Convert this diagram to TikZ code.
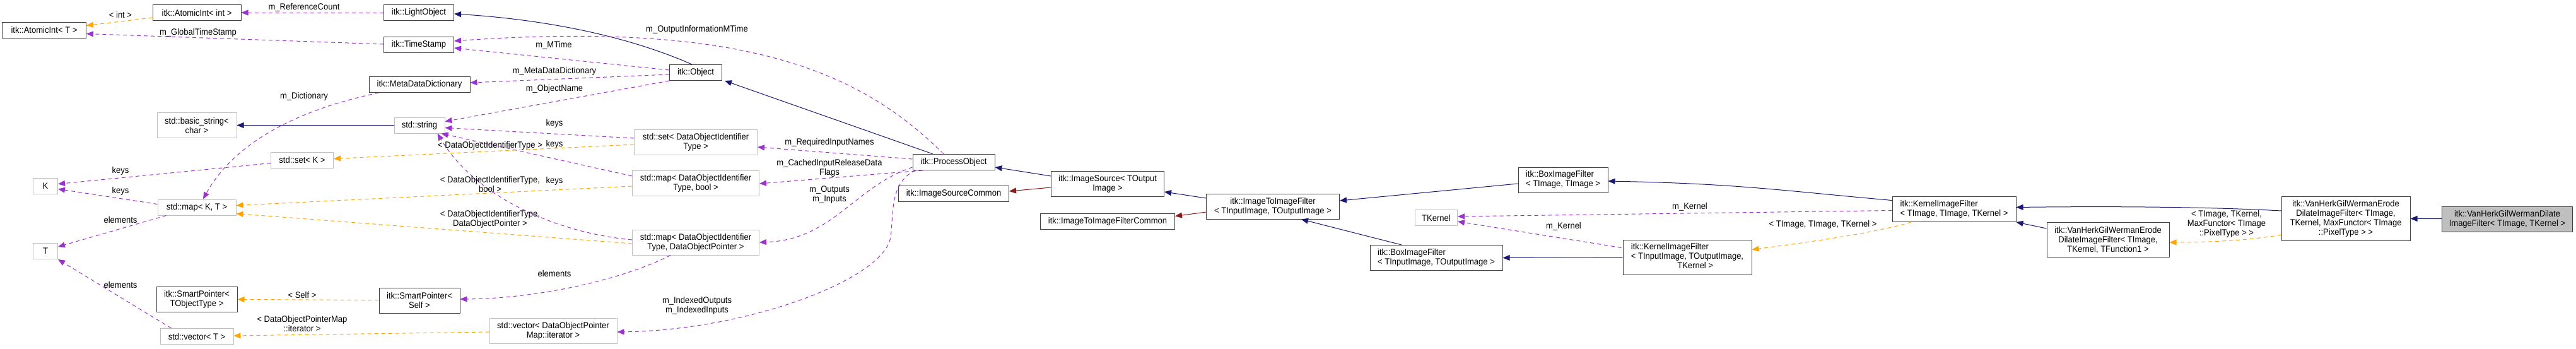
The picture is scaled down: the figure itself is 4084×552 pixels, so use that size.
\documentclass[tikz,border=0pt]{standalone}
\usepackage{fontspec}
\setmainfont{Liberation Sans}[FakeStretch=0.93]
\usetikzlibrary{arrows.meta,calc}
\definecolor{inh}{HTML}{191970}
\definecolor{use}{HTML}{9A32CD}
\definecolor{tpl}{HTML}{FFA500}
\definecolor{prv}{HTML}{8B1A1A}
\definecolor{gb}{HTML}{BFBFBF}
\definecolor{db}{HTML}{404040}
\begin{document}
\begin{tikzpicture}[x=1pt,y=-1pt,
  every node/.style={font=\fontsize{14}{15}\selectfont, inner sep=0pt, align=center},
  doc/.style={draw=db, line width=1pt, fill=white},
  und/.style={draw=gb, line width=1pt, fill=white},
  lbl/.style={},
  ar/.style={-{Triangle[length=11pt,width=9pt]}, line width=1pt},
  inhe/.style={ar, draw=inh},
  pri/.style={ar, draw=prv},
  usee/.style={ar, draw=use, dash pattern=on 6pt off 5pt},
  tple/.style={ar, draw=tpl, dash pattern=on 6pt off 5pt}]
\useasboundingbox (0,0) rectangle (4084,552);
\newcommand{\bx}[7]{\node[#1, minimum width=#5, minimum height=#6] (#2) at (#3,#4) {#7};}
% nodes
\bx{doc}{aiT}{70}{47.5}{133}{25}{itk::AtomicInt< T >}
\bx{doc}{aiint}{312}{20}{140}{25}{itk::AtomicInt< int >}
\bx{doc}{lo}{664}{20}{111}{25}{itk::LightObject}
\bx{doc}{ts}{664}{71}{111}{25}{itk::TimeStamp}
\bx{doc}{mdd}{665}{134}{160}{25}{itk::MetaDataDictionary}
\bx{und}{bstr}{312}{198.5}{126}{40}{std::basic\_string<\\char >}
\bx{und}{str}{665}{198.5}{80}{25}{std::string}
\bx{und}{setK}{479}{253.5}{99}{25}{std::set< K >}
\bx{und}{K}{72}{294.5}{39}{25}{K}
\bx{und}{mapKT}{312}{328.5}{124}{25}{std::map< K, T >}
\bx{und}{T}{72}{398}{39}{25}{T}
\bx{doc}{spT}{312}{474}{128}{40}{itk::SmartPointer<\\TObjectType >}
\bx{doc}{spS}{665}{476}{128}{40}{itk::SmartPointer<\\Self >}
\bx{und}{vecT}{312}{533}{116}{25}{std::vector< T >}
\bx{doc}{obj}{1103}{115}{83}{25}{itk::Object}
\bx{und}{setD}{1103}{225}{195}{40}{std::set< DataObjectIdentifier\\Type >}
\bx{und}{mapB}{1103}{290}{201}{40}{std::map< DataObjectIdentifier\\Type, bool >}
\bx{und}{mapP}{1103}{384}{201}{40}{std::map< DataObjectIdentifier\\Type, DataObjectPointer >}
\bx{und}{vecI}{877}{524}{202}{40}{std::vector< DataObjectPointer\\Map::iterator >}
\bx{doc}{po}{1512}{257}{130}{25}{itk::ProcessObject}
\bx{doc}{isc}{1512}{307}{175}{25}{itk::ImageSourceCommon}
\bx{doc}{is}{1756}{291}{179}{40}{itk::ImageSource< TOutput\\Image >}
\bx{doc}{itic}{1756}{350.5}{213}{25}{itk::ImageToImageFilterCommon}
\bx{doc}{iti}{2018}{327}{211}{40}{itk::ImageToImageFilter\\< TInputImage, TOutputImage >}
\bx{doc}{boxT}{2478}{285}{142}{40}{\begin{tabular}{@{}l@{}}itk::BoxImageFilter\\< TImage, TImage >\end{tabular}}
\bx{und}{tk}{2277}{345}{67}{25}{TKernel}
\bx{doc}{boxI}{2277}{408.5}{210}{40}{\begin{tabular}{@{}l@{}}itk::BoxImageFilter\\< TInputImage, TOutputImage >\end{tabular}}
\bx{doc}{kifI}{2675}{407.5}{204}{55}{\begin{tabular}{@{}l@{}}itk::KernelImageFilter\\< TInputImage, TOutputImage,\\\hfill TKernel >\hspace*{48pt}\end{tabular}}
\bx{doc}{kifT}{3098}{331.5}{196}{40}{\begin{tabular}{@{}l@{}}itk::KernelImageFilter\\< TImage, TImage, TKernel >\end{tabular}}
\bx{doc}{vhF}{3342}{380}{194}{55}{itk::VanHerkGilWermanErode\\DilateImageFilter< TImage,\\TKernel, TFunction1 >}
\bx{doc}{vhM}{3719}{346}{204}{70}{itk::VanHerkGilWermanErode\\DilateImageFilter< TImage,\\TKernel, MaxFunctor< TImage\\::PixelType > >}
\node[draw=db, line width=1pt, fill=gb, minimum width=207, minimum height=40] (vhD) at (3975,347) {itk::VanHerkGilWermanDilate\\ImageFilter< TImage, TKernel >};
% inheritance
\draw[inhe] ($(obj.north)+(-6,0)$) .. controls (985,53) and (851,30) .. ($(lo.east)+(0,2)$);
\draw[inhe] ($(po.north)+(-33,0)$) -- ($(obj.south east)+(4,0)$);
\draw[inhe] (str) -- (bstr);
\draw[inhe] ($(is.west)+(0,-12)$) -- ($(po.east)+(0,8)$);
\draw[pri] ($(is.west)+(0,6)$) -- ($(isc.east)+(0,-4)$);
\draw[inhe] ($(iti.west)+(0,-13)$) -- ($(is.east)+(0,13)$);
\draw[pri] ($(iti.west)+(0,9)$) -- ($(itic.east)+(0,-8)$);
\draw[inhe] ($(boxT.west)+(0,6)$) -- ($(iti.east)+(0,-9)$);
\draw[inhe] ($(boxI.north)+(-55,0)$) -- ($(iti.south)+(45,0)$);
\draw[inhe] ($(kifT.west)+(0,-14)$) .. controls (2815,301) and (2753,291) .. ($(boxT.east)+(0,2)$);
\draw[inhe] (kifI.west) -- (boxI.east);
\draw[inhe] ($(vhM.west)+(0,-12)$) .. controls (3490,327) and (3318,327) .. ($(kifT.east)+(0,-3)$);
\draw[inhe] ($(vhF.north west)+(0,10)$) -- (kifT.south east);
\draw[inhe] (vhD) -- (vhM);
% usage
\draw[usee] (lo) -- (aiint);
\node[lbl] (l1) at (482,12) {m\_ReferenceCount};
\draw[usee] ($(ts.west)+(0,-1)$) -- ($(aiT.east)+(0,6)$);
\node[lbl] (l2) at (314,52) {m\_GlobalTimeStamp};
\draw[usee] ($(obj.west)+(0,-4)$) -- ($(ts.east)+(0,5)$);
\node[lbl] (l3) at (878,72) {m\_MTime};
\draw[usee] ($(po.north)+(-16,0)$) .. controls (1367,116) and (1186,32) .. ($(ts.east)+(0,-6)$);
\node[lbl] (l4) at (1105,46.5) {m\_OutputInformationMTime};
\draw[usee] ($(obj.west)+(0,3)$) -- ($(mdd.east)+(0,-3)$);
\node[lbl] (l5) at (879,113) {m\_MetaDataDictionary};
\draw[usee] (obj.south west) -- ($(str.east)+(0,-6)$);
\node[lbl] (l6) at (879,140.5) {m\_ObjectName};
\draw[usee] ($(mdd.south west)+(16,0)$) .. controls (442,180) and (362,243) .. ($(mapKT.north)+(10,0)$);
\node[lbl] (l7) at (482,153) {m\_Dictionary};
\draw[usee] ($(setK.west)+(0,5)$) -- ($(K.east)+(0,-3)$);
\node[lbl] (l8) at (191,271) {keys};
\draw[usee] ($(mapKT.west)+(0,-5)$) -- ($(K.east)+(0,5)$);
\node[lbl] (l9) at (191,303) {keys};
\draw[usee] ($(mapKT.south west)+(14,0)$) -- ($(T.east)+(0,-7)$);
\node[lbl] (l10) at (191,348.5) {elements};
\draw[usee] ($(vecT.north west)+(18,0)$) -- (T.south east);
\node[lbl] (l11) at (191,451) {elements};
\draw[usee] ($(setD.west)+(0,-6)$) -- ($(str.east)+(0,4)$);
\node[lbl] (l12) at (879,196) {keys};
\draw[usee] ($(mapB.west)+(0,-11)$) -- ($(str.south east)+(-6,0)$);
\node[lbl] (l13) at (879,229) {keys};
\draw[usee] ($(mapP.west)+(0,-4)$) .. controls (891,370) and (757,317) .. ($(str.south east)+(-12,0)$);
\node[lbl] (l14) at (879,287) {keys};
\draw[usee] ($(mapP.south)+(-40,0)$) .. controls (985,444) and (851,473) .. ($(spS.east)+(0,-2)$);
\node[lbl] (l15) at (879,433) {elements};
\draw[usee] ($(po.west)+(0,-5)$) -- ($(setD.east)+(0,8)$);
\node[lbl] (l16) at (1315,226) {m\_RequiredInputNames};
\draw[usee] ($(po.south west)+(16,0)$) -- ($(mapB.east)+(0,1)$);
\node[lbl] (l17) at (1315,266) {m\_CachedInputReleaseData\\Flags};
\draw[usee] ($(po.west)+(0,8)$) .. controls (1354,296) and (1320,380) .. (mapP.east);
\node[lbl] (l18) at (1315,309) {m\_Outputs\\m\_Inputs};
\draw[usee] ($(po.south west)+(5,0)$) .. controls (1407,290) and (1418,348) .. (1411,380) .. controls (1394,444) and (1186,523) .. ($(vecI.east)+(0,2)$);
\node[lbl] (l19) at (1105,484) {m\_IndexedOutputs\\m\_IndexedInputs};
\draw[usee] ($(kifT.west)+(0,2)$) -- ($(tk.east)+(0,-2)$);
\node[lbl] (l20) at (2679,328) {m\_Kernel};
\draw[usee] ($(kifI.west)+(-2,-15)$) -- ($(tk.east)+(0,6)$);
\node[lbl] (l21) at (2479,359) {m\_Kernel};
% templates
\draw[tple] ($(aiint.west)+(0,8)$) -- ($(aiT.east)+(0,-7)$);
\node[lbl] (l22) at (191,23) {< int >};
\draw[tple] ($(setD.west)+(0,4)$) -- ($(setK.east)+(0,-2)$);
\node[lbl] (l23) at (777,231) {< DataObjectIdentifierType >};
\draw[tple] ($(mapB.west)+(0,5)$) -- ($(mapKT.east)+(0,-3)$);
\node[lbl] (l24) at (777,291.5) {< DataObjectIdentifierType,\\bool >};
\draw[tple] ($(mapP.west)+(0,2)$) -- ($(mapKT.east)+(0,10)$);
\node[lbl] (l25) at (777,347) {< DataObjectIdentifierType,\\DataObjectPointer >};
\draw[tple] (spS) -- (spT);
\node[lbl] (l26) at (479,467) {< Self >};
\draw[tple] ($(vecI.west)+(0,2)$) -- ($(vecT.east)+(0,-1)$);
\node[lbl] (l27) at (479,513) {< DataObjectPointerMap\\::iterator >};
\draw[tple] ($(kifT.south)+(-68,0)$) .. controls (2969,370) and (2858,385) .. ($(kifI.east)+(0,-12)$);
\node[lbl] (l28) at (2890,356) {< TImage, TImage, TKernel >};
\draw[tple] ($(vhM.west)+(0,26)$) .. controls (3561,382) and (3490,384) .. ($(vhF.east)+(0,4)$);
\node[lbl] (l29) at (3530,355) {< TImage, TKernel,\\MaxFunctor< TImage\\::PixelType > >};
\end{tikzpicture}
\end{document}
